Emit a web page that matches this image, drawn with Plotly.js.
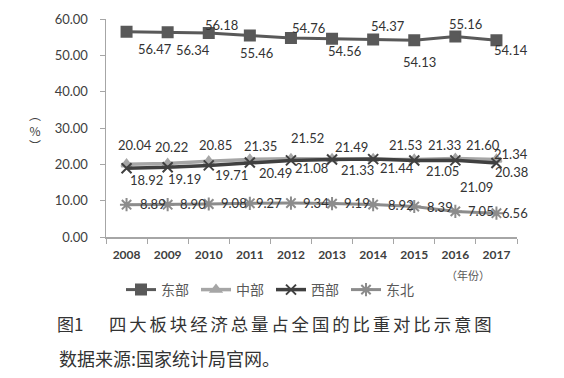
<!DOCTYPE html>
<html>
<head>
<meta charset="utf-8">
<script src="https://cdn.plot.ly/plotly-3.0.1.min.js"></script>
<style>html,body{margin:0;padding:0;background:#fff;}#chart{width:564px;height:378px;}</style>
</head>
<body>
<div id="chart"></div>
<script>
// ---- data ----
const years = ['2008','2009','2010','2011','2012','2013','2014','2015','2016','2017'];
const seriesNames = ['东部','中部','西部','东北'];
const east = [56.47, 56.34, 56.18, 55.46, 54.76, 54.56, 54.37, 54.13, 55.16, 54.14];
const central = [20.04, 20.22, 20.85, 21.35, 21.52, 21.49, 21.53, 21.33, 21.60, 21.34];
const west = [18.92, 19.19, 19.71, 20.49, 21.08, 21.33, 21.44, 21.05, 21.09, 20.38];
const northeast = [8.89, 8.90, 9.08, 9.27, 9.34, 9.19, 8.92, 8.39, 7.05, 6.56];
const yTickLabelFormat = '.2f';
const xUnitLabel = '（年份）';
const yTitle = '︵<br>%<br>︶';
const captionFig = '图1';
const captionTitle = '四大板块经济总量占全国的比重对比示意图';
const captionSource = '数据来源:国家统计局官网。';

// ---- label placement (pixel offsets, style only) ----
const offEast = [[28,17],[25,18],[13,-8],[7,17],[18,-10],[12,12],[15,-13],[5,22],[10,-13],[15,10]];
const offCentral = [[8,-19],[4,-17],[7,-16],[11,-13],[17,-21],[19,-12],[32,-14],[30,-15],[28,-14],[15,-5]];
const offWest = [[20,12],[17,12],[23,10],[26,10],[21,8],[25,10],[24,9],[28,10],[21,27],[15,9]];
const offNE = [[26,-1],[25,-1],[25,-1],[19,0],[25,0],[25,-1],[28,0],[26,0],[26,0],[19,0]];

const styles = [
  {color:'#595959', symbol:'square', size:10, width:3},
  {color:'#a6a6a6', symbol:'triangle-up', size:9, width:3.5},
  {color:'#404040', symbol:'x-thin-open', size:10, width:3.5},
  {color:'#8c8c8c', symbol:'asterisk-open', size:11, width:3}
];
const allSeries = [east, central, west, northeast];
const allOffsets = [offEast, offCentral, offWest, offNE];

const traces = allSeries.map((vals, k) => ({
  type:'scatter', mode:'lines+markers', name: seriesNames[k],
  x: years, y: vals,
  line:{color: styles[k].color, width: styles[k].width},
  marker:{symbol: styles[k].symbol, size: styles[k].size, color: styles[k].color,
          line:{color: styles[k].color, width: 2}},
  cliponaxis:false
}));

const annotations = [];
allSeries.forEach((vals, k) => {
  vals.forEach((v, i) => {
    annotations.push({
      x: i, y: v, xref:'x', yref:'y', text: v.toFixed(2), showarrow:false,
      xanchor:'center', yanchor:'middle',
      xshift: allOffsets[k][i][0], yshift: -allOffsets[k][i][1],
      font:{family:'Lato, "Liberation Sans", sans-serif', size:13, color:'#333333'}
    });
  });
});
const spaced = captionTitle.split('').join('\u2006');
annotations.push(
  {xref:'paper', yref:'paper', x:(35-106)/411, y:(237-130)/218, text:yTitle, showarrow:false,
   xanchor:'center', yanchor:'middle',
   font:{family:'"Noto Sans CJK SC", sans-serif', size:12, color:'#404040'}},
  {xref:'paper', yref:'paper', x:(468-106)/411, y:-(275-237)/218, text:xUnitLabel, showarrow:false,
   xanchor:'center', yanchor:'middle',
   font:{family:'"Noto Sans CJK SC", sans-serif', size:11, color:'#595959'}},
  {xref:'paper', yref:'paper', x:(55-106)/411, y:-(323-237)/218, text:captionFig, showarrow:false,
   xanchor:'left', yanchor:'middle',
   font:{family:'"Noto Sans CJK SC", sans-serif', size:17, color:'#333333'}},
  {xref:'paper', yref:'paper', x:(107-106)/411, y:-(323-237)/218, text:spaced, showarrow:false,
   xanchor:'left', yanchor:'middle',
   font:{family:'"Noto Sans CJK SC", sans-serif', size:17.4, color:'#333333'}},
  {xref:'paper', yref:'paper', x:(57-106)/411, y:-(358-237)/218, text:captionSource, showarrow:false,
   xanchor:'left', yanchor:'middle',
   font:{family:'"Noto Sans CJK SC", sans-serif', size:18, color:'#333333'}}
);

const layout = {
  width:564, height:378,
  margin:{l:106, r:47, t:19, b:141},
  paper_bgcolor:'#ffffff', plot_bgcolor:'#ffffff',
  showlegend:true,
  legend:{orientation:'h', x:(121-106)/411, xanchor:'left', y:-(290-237)/218, yanchor:'middle',
          entrywidth:30, entrywidthmode:'pixels', traceorder:'normal',
          font:{family:'"Noto Sans CJK SC", sans-serif', size:14, color:'#595959'},
          bgcolor:'rgba(0,0,0,0)'},
  xaxis:{type:'category', range:[-0.5, 9.5], showline:true, linecolor:'#a6a6a6', linewidth:1.5,
         ticks:'outside', ticklen:5, tickcolor:'#a6a6a6', tickson:'boundaries',
         showgrid:false, zeroline:false, fixedrange:true, ticklabelstandoff:6,
         tickfont:{family:'Lato, "Liberation Sans", sans-serif', size:12, color:'#404040', weight:'bold'}},
  yaxis:{range:[0,60], dtick:10, tickformat:yTickLabelFormat, showline:true, linecolor:'#a6a6a6', linewidth:1.5,
         ticks:'outside', ticklen:5, tickcolor:'#a6a6a6', showgrid:false, zeroline:false,
         ticklabelstandoff:9,
         tickfont:{family:'Lato, "Liberation Sans", sans-serif', size:13, color:'#404040'}},
  annotations: annotations
};

Plotly.newPlot('chart', traces, layout, {displayModeBar:false, staticPlot:true});
</script>
</body>
</html>
